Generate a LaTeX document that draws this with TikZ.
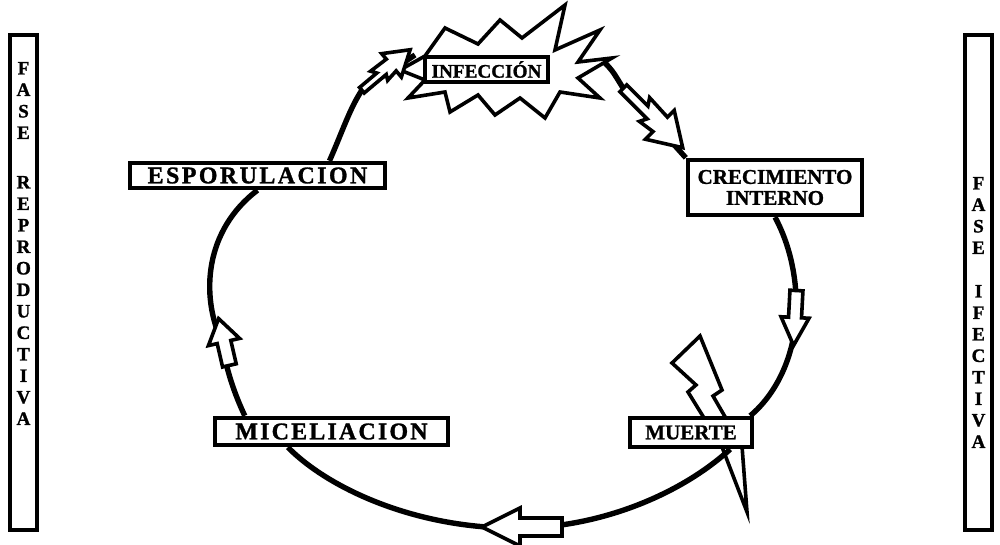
\documentclass[tikz,border=0pt]{standalone}
\usepackage{fontspec}
\setmainfont{Liberation Serif}[BoldFeatures={FakeBold=1.2}]
\usetikzlibrary{positioning}
\newcommand\stagefont{\fontsize{10.5}{10.5}\selectfont\bfseries}
\newcommand\barfont{\fontsize{9.5}{10.75}\selectfont\bfseries}
\tikzset{
  ring/.style={line width=2.7pt},
  stagebox/.style={draw, line width=2.2pt, fill=white, inner sep=0pt, align=center, font=\stagefont},
  phasebar/.style={draw, line width=2.4pt, minimum width=13.5pt, minimum height=247.5pt, inner sep=0pt},
  phaseletters/.style={align=center, font=\barfont, inner sep=0pt},
  arrowline/.style={draw, line width=1.8pt, fill=white, line join=miter},
  pics/hollowarrow/.style args={#1/#2/#3/#4}{code={
    \draw[arrowline] ({-#1/2},{-#4}) -- ({#1/2-#2},{-#4}) -- ({#1/2-#2},{-#3}) -- ({#1/2},0)
      -- ({#1/2-#2},{#3}) -- ({#1/2-#2},{#4}) -- ({-#1/2},{#4}) -- cycle;
  }},
  pics/zigarrow/.style={code={
    \draw[arrowline] (-35,-4) -- (-10,-4) -- (-14,-10) -- (8,-9) -- (8,-17) -- (35,0)
      -- (8,17) -- (8,8) -- (-6,10) -- (-3,4) -- (-35,4) -- cycle;
  }},
}
\begin{document}
\begin{tikzpicture}[x=0.5pt, y=-0.5pt]
  \useasboundingbox (0,0) rectangle (1000,545);

  % phase bars
  \node[phasebar] (leftbar) at (23.5,282.5) {};
  \node[phaseletters, below=14.5pt of leftbar.north] (lefttext)
    {F\\A\\S\\E\\[14pt]R\\E\\P\\R\\O\\D\\U\\C\\T\\I\\V\\A};
  \node[phasebar] (rightbar) at (978.5,282.5) {};
  \node[phaseletters, below=72pt of rightbar.north] (righttext)
    {F\\A\\S\\E\\[11pt]I\\F\\E\\C\\T\\I\\V\\A};

  % lightning behind the box
  \draw[arrowline] (700,336) -- (722,390) -- (713,396) -- (742,446) -- (747,512) -- (722,447)
    -- (688,392) -- (696,385) -- (672,363) -- cycle;

  % burst round the infection
  \draw[arrowline] (425,56) -- (445,28) -- (478,44) -- (500,20) -- (522,38) -- (565,5)
    -- (555,50) -- (600,30) -- (578,62) -- (612,58) -- (578,78) -- (600,98) -- (560,92)
    -- (545,118) -- (520,98) -- (495,115) -- (478,95) -- (450,112) -- (445,92)
    -- (408,98) -- (425,80) -- (400,70) -- cycle;

  % stages
  \node[stagebox, minimum width=61.5pt, minimum height=12.5pt, font=\fontsize{9.6}{9.6}\selectfont\bfseries]
    (infeccion) at (486.5,69.5) {INFECCIÓN};
  \node[stagebox, minimum width=127.5pt, minimum height=12.5pt,
    font=\fontsize{12}{12}\selectfont\bfseries\addfontfeatures{LetterSpace=10}]
    (esporulacion) at (257.5,175.5) {ESPORULACION};
  \node[stagebox, minimum width=87pt, minimum height=27.5pt] (crecimiento) at (775,187.5) {CRECIMIENTO\\INTERNO};
  \node[stagebox, minimum width=116.5pt, minimum height=13.5pt,
    font=\fontsize{12}{12}\selectfont\bfseries\addfontfeatures{LetterSpace=9}]
    (miceliacion) at (331.5,431.5) {MICELIACION};
  \node[stagebox, minimum width=61pt, minimum height=14.5pt] (muerte) at (691,432.5) {MUERTE};

  % the cycle, stage to stage
  \draw[ring] (604,62) .. controls (612,70) .. (623,88) -- (crecimiento.north west);
  \draw[ring] (crecimiento.south) .. controls (790,245) and (798,280) .. (796,318)
    .. controls (793,360) and (775,395) .. ([xshift=-2pt]muerte.north east);
  \draw[ring] ([xshift=-12pt]muerte.south east) .. controls (680,495) and (600,527) .. (522,528)
    .. controls (420,530) and (330,490) .. ([xshift=37.5pt]miceliacion.south west);
  \draw[ring] ([xshift=16pt]miceliacion.north west) .. controls (235,395) and (226,370) .. (222,342)
    .. controls (200,295) and (205,230) .. (esporulacion.south);
  \draw[ring] ([xshift=36pt]esporulacion.north) .. controls (343,130) and (350,108) .. (362,90)
    -- (415,55);

  % arrows on the cycle
  \pic[rotate=40, scale=0.9] (apinf) at (386,70) {zigarrow};
  \pic[rotate=-45, scale=1.2] (apcre) at (653,118) {zigarrow};
  \pic[rotate=-93] (apdown) at (795,318) {hollowarrow=55/28/14/6.5};
  \pic[rotate=180] (apbottom) at (522,527) {hollowarrow=80/38/19/9};
  \pic[rotate=103] (apleft) at (224,342) {hollowarrow=48/24/16/7};
\end{tikzpicture}
\end{document}
